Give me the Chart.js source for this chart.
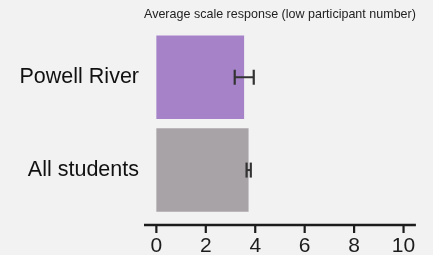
<!DOCTYPE html>
<html>
<head>
<meta charset="utf-8">
<script src="https://cdn.jsdelivr.net/npm/chart.js@4/dist/chart.umd.min.js"></script>
<style>
  html, body { margin: 0; padding: 0; background: #f2f2f2; }
  #wrap { width: 433px; height: 255px; }
</style>
</head>
<body>
<div id="wrap"><canvas id="chart" width="433" height="255"></canvas></div>
<script>
// values
const categories = ['Powell River', 'All students'];
const means = [3.55, 3.73];
const errLow = [3.17, 3.65];
const errHigh = [3.94, 3.82];
const barColors = ['#a683c9', '#a8a3a7'];
const xTicks = [0, 2, 4, 6, 8, 10];

const axisColor = '#1c1c1c';

// background fill
const bgPlugin = {
    id: 'bg',
    beforeDraw(chart) {
        const ctx = chart.ctx;
        ctx.save();
        ctx.fillStyle = '#f2f2f2';
        ctx.fillRect(0, 0, chart.width, chart.height);
        ctx.restore();
    }
};

// x axis line + tick marks drawn a bit below the plot area
const axisPlugin = {
    id: 'xAxisLine',
    afterDraw(chart) {
        const ctx = chart.ctx;
        const x = chart.scales.x;
        const y0 = chart.chartArea.bottom + 8.5;
        ctx.save();
        ctx.strokeStyle = axisColor;
        ctx.lineWidth = 2.5;
        ctx.beginPath();
        ctx.moveTo(x.getPixelForValue(x.min), y0);
        ctx.lineTo(x.getPixelForValue(x.max), y0);
        ctx.stroke();
        ctx.lineWidth = 2.2;
        xTicks.forEach(v => {
            const px = x.getPixelForValue(v);
            ctx.beginPath();
            ctx.moveTo(px, y0);
            ctx.lineTo(px, y0 + 8);
            ctx.stroke();
        });
        ctx.restore();
    }
};

// error bars
const errPlugin = {
    id: 'errorBars',
    afterDatasetsDraw(chart) {
        const ctx = chart.ctx;
        const x = chart.scales.x;
        const y = chart.scales.y;
        ctx.save();
        ctx.strokeStyle = '#333333';
        categories.forEach((c, i) => {
            const yc = y.getPixelForValue(i);
            const x1 = x.getPixelForValue(errLow[i]);
            const x2 = x.getPixelForValue(errHigh[i]);
            ctx.lineWidth = 2;
            ctx.beginPath();
            ctx.moveTo(x1, yc);
            ctx.lineTo(x2, yc);
            ctx.stroke();
            ctx.lineWidth = 2.2;
            [x1, x2].forEach(px => {
                ctx.beginPath();
                ctx.moveTo(px, yc - 7.5);
                ctx.lineTo(px, yc + 7.5);
                ctx.stroke();
            });
        });
        ctx.restore();
    }
};

new Chart(document.getElementById('chart'), {
    type: 'bar',
    data: {
        labels: categories,
        datasets: [{
            data: means,
            backgroundColor: barColors,
            borderWidth: 0,
            categoryPercentage: 0.9,
            barPercentage: 1
        }]
    },
    options: {
        indexAxis: 'y',
        responsive: false,
        animation: false,
        layout: { padding: { top: 0, right: 17, bottom: 0, left: 0 } },
        plugins: {
            legend: { display: false },
            tooltip: { enabled: false },
            title: {
                display: true,
                text: 'Average scale response (low participant number)',
                fullSize: false,
                color: '#222222',
                font: { size: 13.6, weight: 'normal', family: 'Liberation Sans, Arial, sans-serif' },
                padding: { top: 6, bottom: 8.5 }
            }
        },
        scales: {
            x: {
                min: -0.5,
                max: 10.5,
                grid: { display: false, drawTicks: false },
                border: { display: false },
                afterBuildTicks(scale) {
                    scale.ticks = xTicks.map(v => ({ value: v }));
                },
                afterFit(scale) { scale.height = 38.5; },
                ticks: {
                    color: axisColor,
                    padding: 17,
                    maxRotation: 0,
                    autoSkip: false,
                    font: { size: 21, family: 'Liberation Sans, Arial, sans-serif' }
                }
            },
            y: {
                grid: { display: false, drawTicks: false },
                border: { display: false },
                afterFit(scale) { scale.width = 144; },
                ticks: {
                    color: '#111111',
                    padding: 5,
                    font: { size: 21.5, family: 'Liberation Sans, Arial, sans-serif' }
                }
            }
        }
    },
    plugins: [bgPlugin, errPlugin, axisPlugin]
});
</script>
</body>
</html>
